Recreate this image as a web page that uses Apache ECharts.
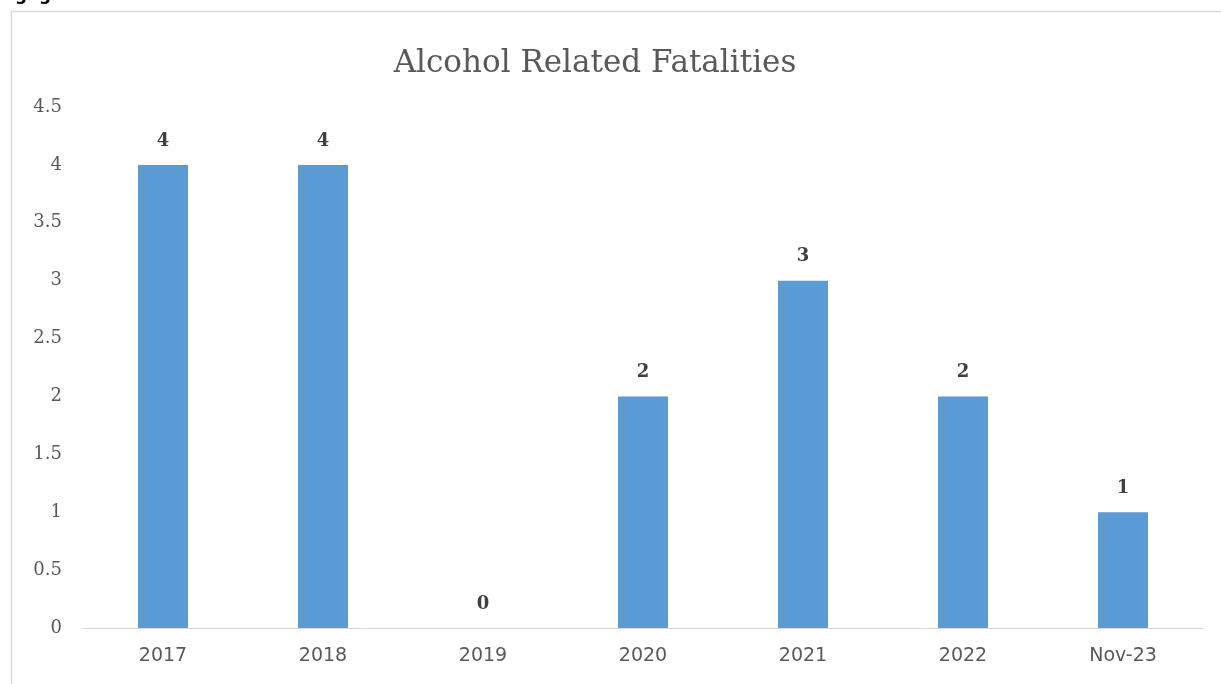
<!DOCTYPE html>
<html>
<head>
<meta charset="utf-8">
<script src="https://cdn.jsdelivr.net/npm/echarts@6/dist/echarts.min.js"></script>
<style>
html,body{margin:0;padding:0;background:#fff;}
#chart{width:1221px;height:684px;}
</style>
</head>
<body>
<div id="chart"></div>
<script>
const categories = ['2017', '2018', '2019', '2020', '2021', '2022', 'Nov-23'];
const fatalities = [4, 4, 0, 2, 3, 2, 1];
const yTicks = [0, 0.5, 1, 1.5, 2, 2.5, 3, 3.5, 4, 4.5];

const chart = echarts.init(document.getElementById('chart'), null, {renderer: 'canvas'});
chart.setOption({
  animation: false,
  backgroundColor: '#ffffff',
  title: {
    text: 'Alcohol Related Fatalities',
    left: 590,
    textAlign: 'center',
    top: 43,
    textStyle: {fontFamily: 'DejaVu Serif', fontSize: 31, fontWeight: 'normal', color: '#595959'}
  },
  graphic: [
    {type: 'rect', shape: {x: 11.5, y: 11.5, width: 1230, height: 700}, style: {fill: 'none', stroke: '#d9d9d9', lineWidth: 1.5}, silent: true},
    {type: 'text', left: 15, top: -13, style: {text: 'g', font: 'bold 17px DejaVu Sans', fill: '#000'}},
    {type: 'text', left: 39, top: -13, style: {text: 'g', font: 'bold 17px DejaVu Sans', fill: '#000'}}
  ],
  grid: {left: 83, right: 18, top: 107, bottom: 56, containLabel: false},
  xAxis: {
    type: 'category',
    data: categories,
    axisLine: {lineStyle: {color: '#d9d9d9', width: 1}},
    axisTick: {show: false},
    axisLabel: {fontFamily: 'DejaVu Sans', fontSize: 19, color: '#595959', margin: 19}
  },
  yAxis: {
    type: 'value',
    min: yTicks[0],
    max: yTicks[yTicks.length - 1],
    interval: 0.5,
    splitLine: {show: false},
    axisLine: {show: false},
    axisTick: {show: false},
    axisLabel: {fontFamily: 'DejaVu Serif', fontSize: 18, color: '#595959', margin: 21, align: 'right'}
  },
  series: [{
    type: 'bar',
    data: fatalities,
    barWidth: 50,
    itemStyle: {color: '#5b9bd5'},
    label: {
      show: true,
      position: 'top',
      distance: 15,
      fontFamily: 'DejaVu Serif',
      fontSize: 18,
      fontWeight: 'bold',
      color: '#404040'
    }
  }]
});
</script>
</body>
</html>
